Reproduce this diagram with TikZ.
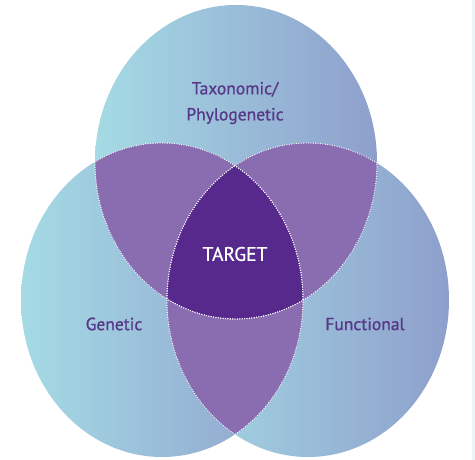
\documentclass[tikz,border=0pt]{standalone}
\usepackage{fontspec}
\setmainfont{PT Sans}
\newfontfamily\lblfont{PT Sans}[FakeBold=0.9]
\definecolor{cyanL}{HTML}{A5DBE5}
\definecolor{cyanR}{HTML}{8E9FCC}
\definecolor{pairC}{HTML}{8A6CB0}
\definecolor{coreC}{HTML}{57298D}
\definecolor{txtC}{HTML}{573888}
\definecolor{stripC}{HTML}{E9F5F8}
\begin{document}
\begin{tikzpicture}[x=1pt,y=-1pt,
  setshade/.style={left color=cyanL,right color=cyanR},
  dotline/.style={draw=white,line width=1.3pt,line cap=round,dash pattern=on 0pt off 2.4pt},
  lbl/.style={font=\lblfont\fontsize{17.5}{26}\selectfont,text=txtC,align=center}]
\useasboundingbox (0,0) rectangle (475,460);
\fill[white] (0,0) rectangle (475,460);
\fill[stripC] (472,0) rectangle (475,460);
\def\topE{(236,162) ellipse [x radius=141,y radius=157]}
\def\leftE{(162,300) ellipse [x radius=141,y radius=157]}
\def\rightE{(308,300) ellipse [x radius=141,y radius=157]}
% sets
\shade[setshade] \leftE;
\shade[setshade] \rightE;
\shade[setshade] \topE;
% pairwise overlaps
\begin{scope}\clip \topE; \fill[pairC] \leftE; \fill[pairC] \rightE;\end{scope}
\begin{scope}\clip \leftE; \fill[pairC] \rightE;\end{scope}
% core
\begin{scope}\clip \topE; \clip \leftE; \fill[coreC] \rightE;\end{scope}
% dotted inner boundaries
\begin{scope}\clip \leftE; \draw[dotline] \topE; \draw[dotline] \rightE;\end{scope}
\begin{scope}\clip \rightE; \draw[dotline] \topE; \draw[dotline] \leftE;\end{scope}
\begin{scope}\clip \topE; \draw[dotline] \leftE; \draw[dotline] \rightE;\end{scope}
% labels
\node[lbl] (tax) at (235,103) {Taxonomic/\\Phylogenetic};
\node[lbl,text=white,font=\lblfont\fontsize{19.5}{24}\selectfont] (target) at (235,254) {TARGET};
\node[lbl] (gen) at (114,324) {Genetic};
\node[lbl] (fun) at (365,324) {Functional};
\end{tikzpicture}
\end{document}
